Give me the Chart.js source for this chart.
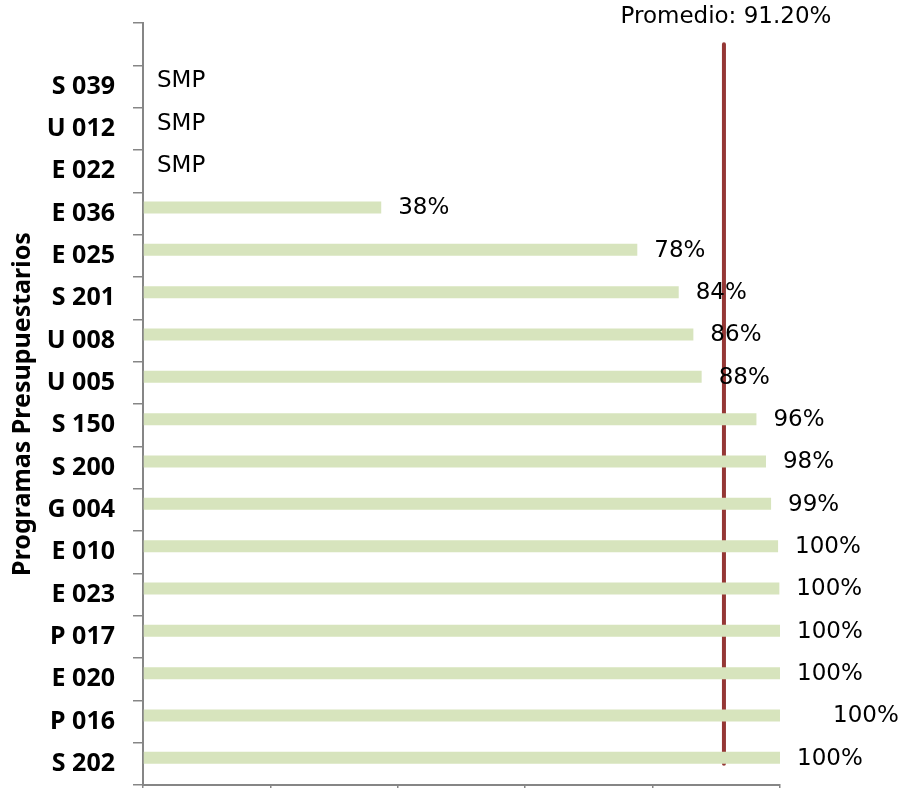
<!DOCTYPE html>
<html>
<head>
<meta charset="utf-8">
<script src="https://cdn.jsdelivr.net/npm/chart.js@4/dist/chart.umd.min.js"></script>
<style>
  html, body { margin: 0; padding: 0; background: #fff; }
  #wrap { width: 902px; height: 788px; }
</style>
</head>
<body>
<div id="wrap"><canvas id="avanceChart"></canvas></div>
<script>
// categories top to bottom (first slot is empty, it holds the average label)
const programas = ['', 'S 039', 'U 012', 'E 022', 'E 036', 'E 025', 'S 201', 'U 008', 'U 005',
  'S 150', 'S 200', 'G 004', 'E 010', 'E 023', 'P 017', 'E 020', 'P 016', 'S 202'];

// bar lengths (null = sin meta programada)
const avance = [null, null, null, null, 37.4, 77.6, 84.1, 86.4, 87.7,
  96.3, 97.8, 98.6, 99.7, 99.9, 100, 100, 100, 100];

// label texts shown next to each bar
const etiquetas = ['', 'SMP', 'SMP', 'SMP', '38%', '78%', '84%', '86%', '88%',
  '96%', '98%', '99%', '100%', '100%', '100%', '100%', '100%', '100%'];

const promedio = 91.2;
const promedioTexto = 'Promedio: 91.20%';

const xTicks = [0, 20, 40, 60, 80, 100];

const GRAY = '#868686';

// draws the data labels and the average caption
const labelsPlugin = {
  id: 'labelsPlugin',
  afterDatasetsDraw(chart) {
    const ctx = chart.ctx;
    const meta = chart.getDatasetMeta(0);
    const x0 = chart.scales.x.getPixelForValue(0);
    ctx.save();
    ctx.fillStyle = '#000';
    ctx.font = '23px "DejaVu Sans"';
    ctx.textBaseline = 'middle';
    ctx.textAlign = 'left';
    meta.data.forEach((bar, i) => {
      const txt = etiquetas[i];
      if (!txt) return;
      let x = avance[i] == null ? x0 + 14 : bar.x + 17;
      if (programas[i] === 'P 016') x += 36; // label was moved by hand in the original
      ctx.fillText(txt, x, bar.y + 1);
    });
    // average caption above the line
    ctx.textAlign = 'center';
    ctx.fillText(promedioTexto, chart.scales.x.getPixelForValue(promedio) + 2, chart.chartArea.top - 6);
    ctx.restore();
  }
};

new Chart(document.getElementById('avanceChart'), {
  type: 'bar',
  data: {
    labels: programas,
    datasets: [
      {
        label: 'Avance',
        data: avance,
        backgroundColor: '#d7e4bd',
        borderWidth: 0,
        categoryPercentage: 0.567,
        barPercentage: 1
      },
      {
        // empty second series, keeps the bar in the upper half of each slot
        label: 'vacio',
        data: programas.map(() => null),
        backgroundColor: 'rgba(0,0,0,0)',
        categoryPercentage: 0.567,
        barPercentage: 1
      },
      {
        type: 'line',
        label: 'Promedio',
        indexAxis: 'y',
        data: [{ x: promedio, y: programas[0] }, { x: promedio, y: programas[programas.length - 1] }],
        borderColor: '#953735',
        borderWidth: 4,
        borderCapStyle: 'round',
        pointRadius: 0,
        fill: false
      }
    ]
  },
  options: {
    indexAxis: 'y',
    responsive: true,
    maintainAspectRatio: false,
    animation: false,
    layout: {
      padding: { top: 23, right: 122, bottom: 0, left: 0 }
    },
    scales: {
      x: {
        type: 'linear',
        min: 0,
        max: 100,
        afterBuildTicks: function(scale) {
          scale.ticks = xTicks.map(v => ({ value: v }));
        },
        ticks: { display: false },
        grid: {
          drawOnChartArea: false,
          drawTicks: true,
          tickLength: 6,
          color: GRAY,
          lineWidth: 1.5
        },
        border: { display: true, color: GRAY, width: 2 },
        afterFit: function(scale) {
          scale.height = 3;
          scale.paddingLeft = 0;
          scale.paddingRight = 0;
        }
      },
      y: {
        type: 'category',
        offset: true,
        ticks: {
          color: '#000',
          padding: 18,
          font: { family: 'Noto Sans', size: 25, weight: 'bold' },
          autoSkip: false
        },
        grid: {
          offset: true,
          drawOnChartArea: false,
          drawTicks: true,
          tickLength: 10,
          color: GRAY,
          lineWidth: 1.5
        },
        border: { display: true, color: GRAY, width: 2 },
        title: {
          display: true,
          text: 'Programas Presupuestarios',
          color: '#000',
          font: { family: 'Noto Sans', size: 25, weight: 'bold' },
          padding: { top: 8, bottom: 0 }
        },
        afterFit: function(scale) {
          scale.width = 143;
          scale.paddingTop = 0;
          scale.paddingBottom = 0;
        }
      }
    },
    plugins: {
      legend: { display: false },
      tooltip: { enabled: false }
    }
  },
  plugins: [labelsPlugin]
});
</script>
</body>
</html>
